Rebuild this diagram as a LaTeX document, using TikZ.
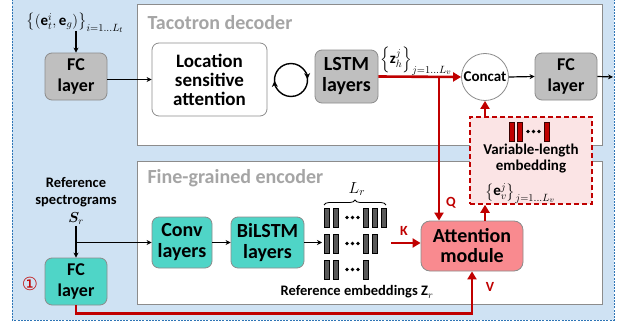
\RequirePackage{fix-cm}
\documentclass[tikz,border=0pt]{standalone}
\usepackage{amsmath,bm}
\usepackage{fontspec}
\setmainfont{Carlito}
\newfontfamily\symfont{DejaVu Sans}
\usetikzlibrary{arrows.meta,decorations.pathreplacing,calc}
\DeclareMathSizes{15}{15}{10.5}{8}

\definecolor{bgblue}{HTML}{CFE2F3}
\definecolor{edgeblue}{HTML}{2E75B6}
\definecolor{boxgray}{HTML}{BFBFBF}
\definecolor{linegray}{HTML}{8C8C8C}
\definecolor{titlegray}{HTML}{A5A5A5}
\definecolor{teal}{HTML}{4FD5C7}
\definecolor{attnred}{HTML}{F98A8F}
\definecolor{darkred}{HTML}{C00000}
\definecolor{pinkfill}{HTML}{FBE4E5}
\definecolor{barfill}{HTML}{595959}

\newcommand{\fsz}[1]{\fontsize{#1}{#1}\selectfont}

\begin{document}
\begin{tikzpicture}[x=1pt,y=-1pt,
  block/.style={rounded corners=7pt, draw=linegray, line width=0.8pt,
    align=center, inner sep=0pt, font=\bfseries\fontsize{19}{21}\selectfont},
  graybox/.style={block, fill=boxgray},
  whitebox/.style={block, fill=white},
  tealbox/.style={block, fill=teal},
  section/.style={draw=linegray, line width=0.9pt, fill=white},
  sectitle/.style={anchor=west, text=titlegray, font=\bfseries\fsz{20}},
  mathlabel/.style={inner sep=0pt, font=\fsz{15}},
  blk/.style={draw=black, line width=1.2pt, -{Stealth[length=5pt,width=5pt]}},
  redarrow/.style={draw=darkred, line width=2.6pt, -{Triangle[length=8pt,width=9pt]}},
  redlabel/.style={text=darkred, font=\bfseries\fsz{14}},
  bar/.style={draw=black, line width=0.4pt, fill=barfill},
  redbar/.style={draw=black!70!darkred, line width=0.6pt, fill=darkred},
  dot/.style={fill=black, draw=none},
]
\useasboundingbox (0,0) rectangle (625,324);

% outer panel
\fill[bgblue] (12,-4) rectangle (614,320);
\draw[edgeblue, line width=0.8pt, dash pattern=on 2pt off 1.2pt] (12,-4) rectangle (614,320);

% two sections
\draw[section] (137,4) rectangle (602,145);
\draw[section] (137,161) rectangle (602,304);
\node[sectitle] (dectitle) at (144,23) {Tacotron decoder};
\node[sectitle] (enctitle) at (144,178) {Fine-grained encoder};

% ---------- decoder ----------
\node[mathlabel] (inlab) at (75,23) {$\left\{(\mathbf{e}_t^i,\mathbf{e}_g)\right\}_{i=1\ldots L_t}$};
\node[graybox, minimum width=62, minimum height=47, font=\bfseries\fontsize{18}{21}\selectfont] (fcin) at (76,76.5) {FC\\layer};
\draw[blk] ([yshift=2pt]inlab.south -| fcin) -- (fcin.north);

\node[whitebox, minimum width=115, minimum height=73, font=\bfseries\fontsize{19}{19}\selectfont] (loc) at (209.5,79.5) {Location\\sensitive\\attention};
\draw[blk] (fcin.east |- loc.west) -- (loc.west);

% recurrence symbol
\coordinate (cyc) at (291,80);
\draw[line width=1.4pt, -{Stealth[length=6pt,width=6pt]}] ([shift={(165:16.5)}]cyc) arc[start angle=165, end angle=357, radius=16.5];
\draw[line width=1.4pt, -{Stealth[length=6pt,width=6pt]}] ([shift={(345:16.5)}]cyc) arc[start angle=345, end angle=537, radius=16.5];

\node[graybox, minimum width=63, minimum height=53, font=\bfseries\fontsize{20}{21}\selectfont] (lstm) at (346.5,76.5) {LSTM\\layers};
\node[circle, draw=linegray, line width=0.8pt, fill=white, minimum size=47, inner sep=0pt, font=\bfseries\fsz{15}] (concat) at (485,77) {Concat};
\node[graybox, minimum width=62, minimum height=47, font=\bfseries\fontsize{18}{21}\selectfont] (fcout) at (566,76.5) {FC\\layer};
\coordinate (outend) at (613,77);

\node[mathlabel] (zlab) at (416,61) {$\left\{\mathbf{z}_h^j\right\}_{j=1\ldots L_v}$};
\coordinate (qsplit) at (439,77);
\draw[redarrow] (lstm.east) -- (concat.west);
\draw[blk] (concat.east) -- (fcout.west);
\draw[blk] (fcout.east) -- (outend);

% variable-length embedding
\node[draw=darkred, fill=pinkfill, line width=1.5pt, dash pattern=on 5pt off 3pt, minimum width=122, minimum height=87, inner sep=0pt] (varbox) at (531,160.5) {};
\draw[redbar] (509,122) rectangle (514,141);
\draw[redbar] (517,122) rectangle (522,141);
\fill[dot] (528,131.5) circle (1.8);
\fill[dot] (533.5,131.5) circle (1.8);
\fill[dot] (539,131.5) circle (1.8);
\draw[redbar] (544,122) rectangle (549,141);
\node[font=\bfseries\fsz{15}, inner sep=0pt] (vartext) at (531,151) {Variable-length};
\node[font=\bfseries\fsz{15}, inner sep=0pt] (vartext2) at (531,167) {embedding};
\node[mathlabel] (evlab) at (520,193.5) {$\left\{\mathbf{e}_v^j\right\}_{j=1\ldots L_v}$};
\draw[redarrow] (varbox.north -| concat) -- (concat.south);

% ---------- encoder ----------
\node[font=\bfseries\fontsize{14.5}{17.5}\selectfont, align=center, inner sep=1pt] (specs) at (76,201) {Reference\\spectrograms\\$\bm{S}_r$};
\node[tealbox, minimum width=62, minimum height=47, font=\bfseries\fontsize{18}{21}\selectfont] (fcbot) at (76,281.5) {FC\\layer};
\node[tealbox, minimum width=60, minimum height=51, font=\bfseries\fontsize{20}{21}\selectfont] (conv) at (182,242.5) {Conv\\layers};
\node[tealbox, minimum width=73, minimum height=51, font=\bfseries\fontsize{20}{21}\selectfont] (bilstm) at (267.5,242.5) {BiLSTM\\layers};
\coordinate (split) at (fcbot.north |- conv.west);
\draw[blk] (specs.south) -- (fcbot.north);
\draw[blk] (split) -- (conv.west);
\draw[blk] (conv.east) -- (bilstm.west);
\coordinate (embin) at (322,242.5);
\draw[blk] (bilstm.east) -- (embin);

\node[text=darkred, font=\symfont\fsz{18}] (stepone) at (30,284) {①};

% reference embeddings
\foreach \x in {324,333,363,372,381} \draw[bar] (\x,208) rectangle ++(5,19);
\foreach \x in {324,333,363,372} \draw[bar] (\x,234) rectangle ++(5,19);
\foreach \x in {324,333,363} \draw[bar] (\x,260) rectangle ++(5,19);
\foreach \y in {217.5,243.5,269.5} {
  \fill[dot] (347,\y) circle (1.8);
  \fill[dot] (352.5,\y) circle (1.8);
  \fill[dot] (358,\y) circle (1.8);
}
\draw[line width=0.8pt, decorate, decoration={brace, amplitude=5pt}] (324,205) -- (386,205);
\node[font=\fsz{16}, inner sep=0pt] (lrlab) at (357,189) {$L_r$};
\node[font=\bfseries\fsz{14.5}, inner sep=0pt] (embtext) at (357,292) {Reference embeddings $\mathbf{Z}_r$};

% attention module
\node[block, fill=attnred, rounded corners=9pt, minimum width=102, minimum height=50, font=\bfseries\fontsize{20}{20}\selectfont] (attn) at (472,246) {Attention\\module};
\coordinate (kstart) at (391,243);
\draw[redarrow] (kstart) -- (kstart -| attn.west);
\node[redlabel] (klab) at (404,231) {K};
\draw[redarrow] (qsplit) -- (qsplit |- attn.north);
\node[redlabel] (qlab) at (451,203) {Q};
\draw[redarrow] (fcbot.south) -- ++(0,8) -| (attn.south);
\node[redlabel] (vlab) at (490,287) {V};
\draw[redarrow] (attn.north -| concat) -- (varbox.south -| concat);
\end{tikzpicture}
\end{document}
